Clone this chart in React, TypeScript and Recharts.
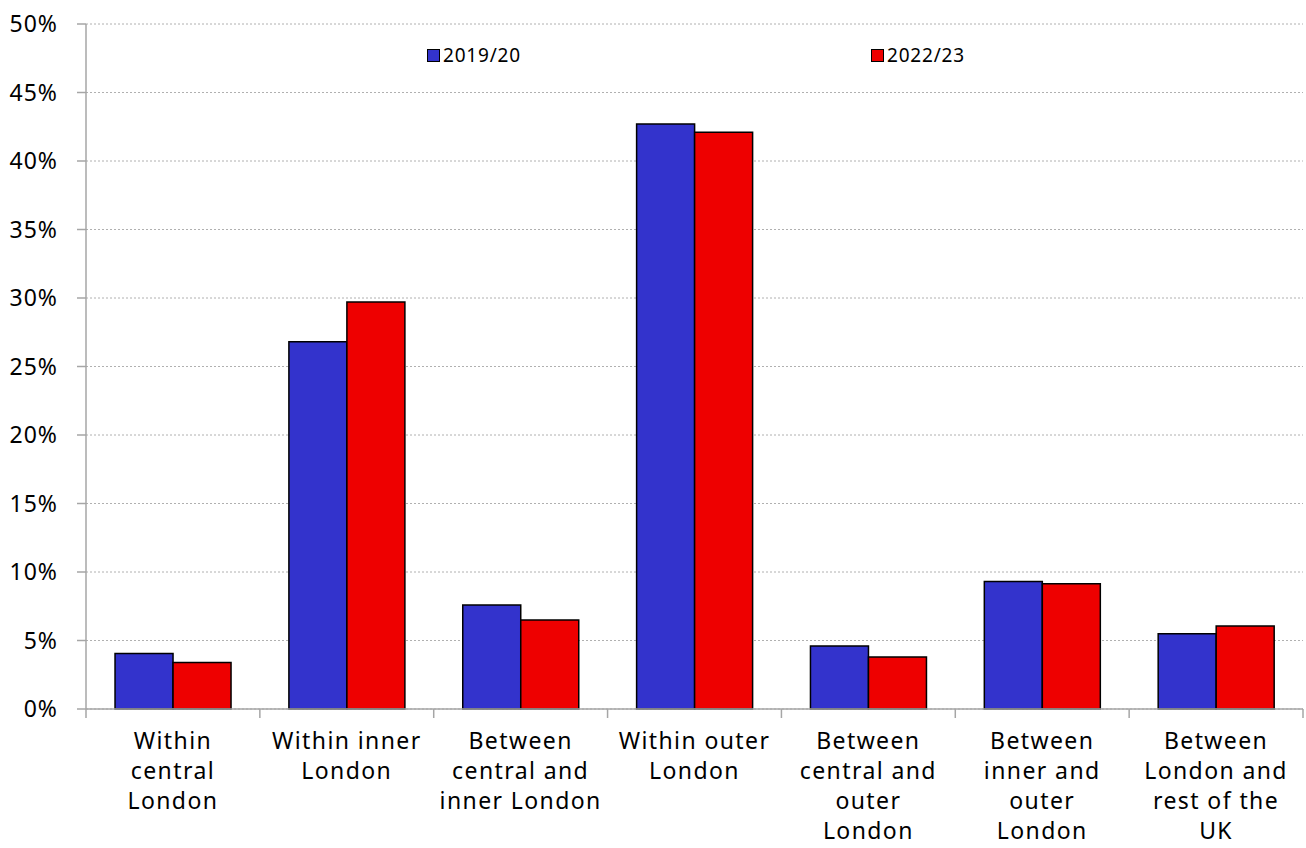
import React from 'react';
import { BarChart, Bar, XAxis, YAxis, CartesianGrid } from 'recharts';

const categories = [
  'Within|central|London',
  'Within inner|London',
  'Between|central and|inner London',
  'Within outer|London',
  'Between|central and|outer|London',
  'Between|inner and|outer|London',
  'Between|London and|rest of the|UK',
];
const values1920 = [4.05, 26.8, 7.6, 42.7, 4.6, 9.3, 5.5];
const values2223 = [3.4, 29.7, 6.5, 42.1, 3.8, 9.15, 6.05];
const yTicks = [0, 5, 10, 15, 20, 25, 30, 35, 40, 45, 50];
const seriesNames = ['2019/20', '2022/23'];
const seriesColors = ['#3333CC', '#EE0000'];

const data = categories.map((c, i) => ({
  name: c,
  a: values1920[i],
  b: values2223[i],
}));

const W = 1306;
const H = 848;
const LEFT = 86;
const RIGHT = 3;
const BAND = (W - LEFT - RIGHT) / categories.length;
const FONT = '"Noto Sans", Lato, sans-serif';
const AXIS = '#a6a6a6';

const XTick = (props: any) => {
  const { x, y, payload, index } = props;
  const lines = String(payload.value).split('|');
  return (
    <g>
      <line x1={x - BAND / 2} x2={x - BAND / 2} y1={y - 8} y2={y + 1} stroke={AXIS} strokeWidth={1.5} />
      {index === categories.length - 1 && (
        <line x1={x + BAND / 2} x2={x + BAND / 2} y1={y - 8} y2={y + 1} stroke={AXIS} strokeWidth={1.5} />
      )}
      <text x={x} y={y + 32} textAnchor="middle" fontSize={23} letterSpacing={1.4} fontFamily={FONT} fill="#000">
        {lines.map((l, i) => (
          <tspan key={i} x={x} dy={i === 0 ? 0 : 30}>{l}</tspan>
        ))}
      </text>
    </g>
  );
};

const legendLeft = [427, 871];

export default function App() {
  return (
    <div style={{ position: 'absolute', left: 0, top: 0, width: W, height: H, background: '#fff' }}>
      <BarChart
        width={W}
        height={H}
        data={data}
        margin={{ top: 24, right: RIGHT, bottom: 0, left: 0 }}
        barCategoryGap="16.7%"
        barGap={0}
      >
        <CartesianGrid vertical={false} stroke="#b0b0b0" strokeDasharray="2 2" />
        <XAxis
          dataKey="name"
          height={139}
          interval={0}
          tickLine={false}
          axisLine={{ stroke: AXIS, strokeWidth: 1.5 }}
          tick={<XTick />}
        />
        <YAxis
          width={LEFT}
          domain={[0, 50]}
          ticks={yTicks}
          tickFormatter={(v) => `${v}%`}
          tickSize={9}
          tickMargin={19}
          axisLine={{ stroke: AXIS, strokeWidth: 1.5 }}
          tickLine={{ stroke: AXIS, strokeWidth: 1.5 }}
          tick={{ fontSize: 23, letterSpacing: 1, fontFamily: FONT, fill: '#000' }}
        />
        <Bar dataKey="a" name={seriesNames[0]} fill={seriesColors[0]} stroke="#000" strokeWidth={1.5} isAnimationActive={false} />
        <Bar dataKey="b" name={seriesNames[1]} fill={seriesColors[1]} stroke="#000" strokeWidth={1.5} isAnimationActive={false} />
      </BarChart>
      {seriesNames.map((label, i) => (
        <div
          key={label}
          style={{
            position: 'absolute',
            left: legendLeft[i],
            top: 42,
            display: 'flex',
            alignItems: 'center',
            fontFamily: FONT,
            fontSize: 19,
            letterSpacing: 0.8,
          }}
        >
          <span style={{ display: 'inline-block', width: 11, height: 11, background: seriesColors[i], border: '1.5px solid #000', marginRight: 3 }} />
          <span>{label}</span>
        </div>
      ))}
    </div>
  );
}
